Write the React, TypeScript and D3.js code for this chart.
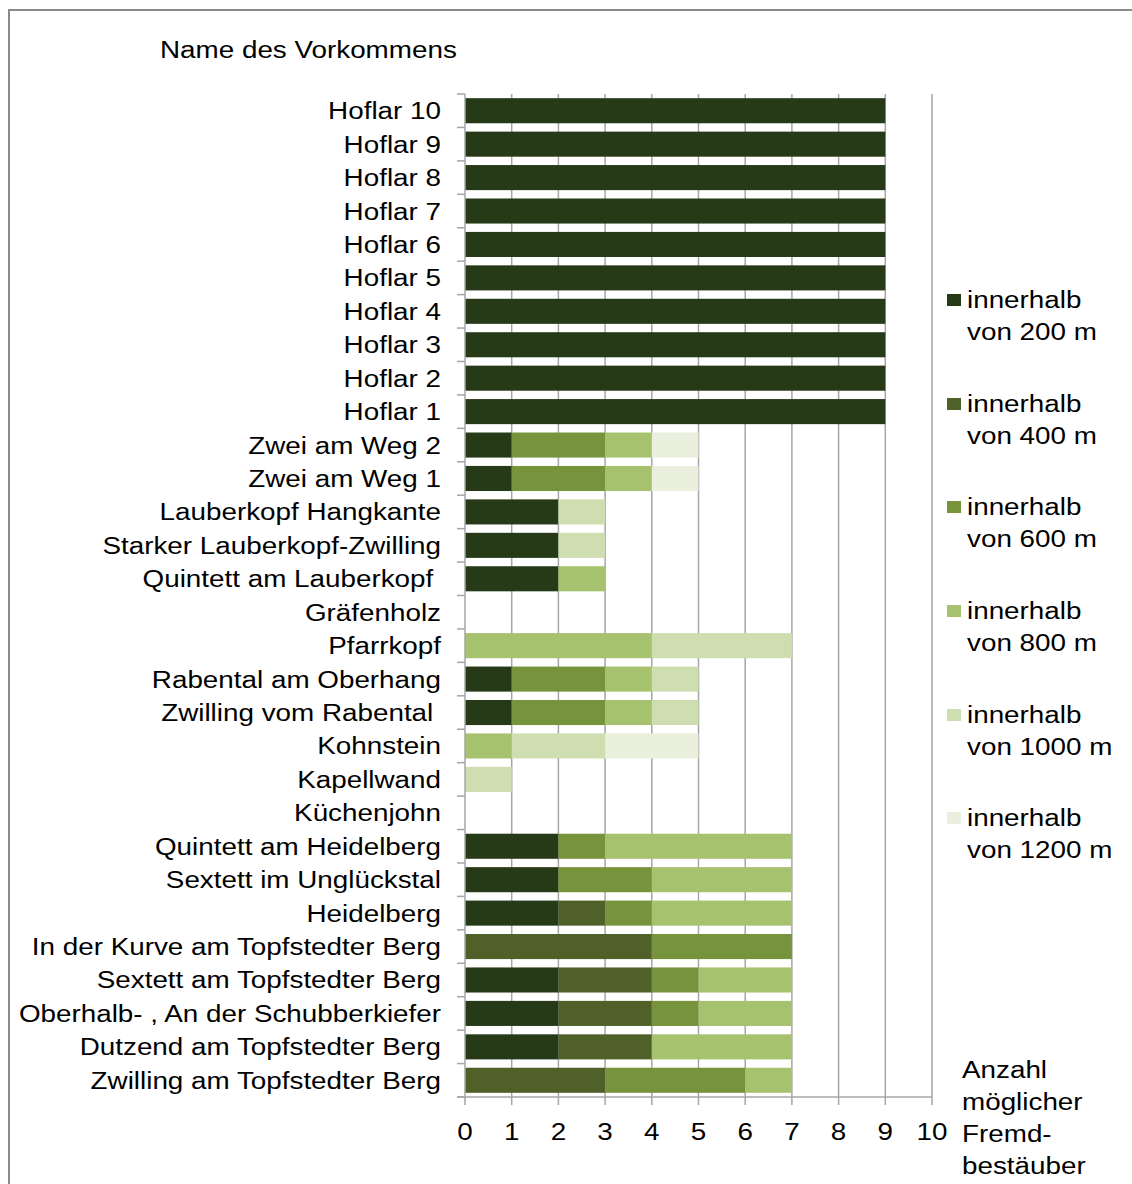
import React from "react";
import * as d3 from "d3";

const categories = [
  "Hoflar 10", "Hoflar 9", "Hoflar 8", "Hoflar 7", "Hoflar 6", "Hoflar 5",
  "Hoflar 4", "Hoflar 3", "Hoflar 2", "Hoflar 1",
  "Zwei am Weg 2", "Zwei am Weg 1", "Lauberkopf Hangkante",
  "Starker Lauberkopf-Zwilling", "Quintett am Lauberkopf ", "Gräfenholz",
  "Pfarrkopf", "Rabental am Oberhang", "Zwilling vom Rabental ", "Kohnstein",
  "Kapellwand", "Küchenjohn", "Quintett am Heidelberg", "Sextett im Unglückstal",
  "Heidelberg", "In der Kurve am Topfstedter Berg", "Sextett am Topfstedter Berg",
  "Oberhalb- , An der Schubberkiefer", "Dutzend am Topfstedter Berg",
  "Zwilling am Topfstedter Berg",
];

const seriesKeys = ["m200", "m400", "m600", "m800", "m1000", "m1200"];
const seriesLabels = ["von 200 m", "von 400 m", "von 600 m", "von 800 m", "von 1000 m", "von 1200 m"];
const seriesColors = ["#273a18", "#4f6128", "#77933c", "#a7c26e", "#cfdeb0", "#ebf0de"];

const within200 = [9, 9, 9, 9, 9, 9, 9, 9, 9, 9, 1, 1, 2, 2, 2, 0, 0, 1, 1, 0, 0, 0, 2, 2, 2, 0, 2, 2, 2, 0];
const within400 = [0, 0, 0, 0, 0, 0, 0, 0, 0, 0, 0, 0, 0, 0, 0, 0, 0, 0, 0, 0, 0, 0, 0, 0, 1, 4, 2, 2, 2, 3];
const within600 = [0, 0, 0, 0, 0, 0, 0, 0, 0, 0, 2, 2, 0, 0, 0, 0, 0, 2, 2, 0, 0, 0, 1, 2, 1, 3, 1, 1, 0, 3];
const within800 = [0, 0, 0, 0, 0, 0, 0, 0, 0, 0, 1, 1, 0, 0, 1, 0, 4, 1, 1, 1, 0, 0, 4, 3, 3, 0, 2, 2, 3, 1];
const within1000 = [0, 0, 0, 0, 0, 0, 0, 0, 0, 0, 0, 0, 1, 1, 0, 0, 3, 1, 1, 2, 1, 0, 0, 0, 0, 0, 0, 0, 0, 0];
const within1200 = [0, 0, 0, 0, 0, 0, 0, 0, 0, 0, 1, 1, 0, 0, 0, 0, 0, 0, 0, 2, 0, 0, 0, 0, 0, 0, 0, 0, 0, 0];

const xTicks = [0, 1, 2, 3, 4, 5, 6, 7, 8, 9, 10];
const yTitle = "Name des Vorkommens";
const xTitle = ["Anzahl", "möglicher", "Fremd-", "bestäuber"];

const FONT = "'Liberation Sans', Arial, sans-serif";
const FS = 23;
const SX = 1.21;
const GRID = "#a6a6a6";

function T({ x, y, anchor = "start", children }: { x: number; y: number; anchor?: string; children: any }) {
  return (
    <text
      transform={`translate(${x},${y}) scale(${SX},1)`}
      textAnchor={anchor as any}
      fontFamily={FONT}
      fontSize={FS}
      fill="#000"
      style={{ whiteSpace: "pre" }}
    >
      {children}
    </text>
  );
}

export default function App() {
  const data = categories.map((c, i) => ({
    name: c,
    m200: within200[i],
    m400: within400[i],
    m600: within600[i],
    m800: within800[i],
    m1000: within1000[i],
    m1200: within1200[i],
  }));

  const x = d3.scaleLinear().domain([0, 10]).range([465, 932]);
  const y = d3.scaleBand().domain(categories).range([94, 1097]).paddingInner(0.25).paddingOuter(0.125);
  const step = y.step();
  const stacked = d3.stack<any>().keys(seriesKeys)(data);

  const legendY = [300, 404, 507, 611, 715, 818];

  return (
    <svg width={1132} height={1184} style={{ position: "absolute", left: 0, top: 0, background: "#fff" }}>
      <rect x={0} y={0} width={1132} height={1184} fill="#fff" />
      <rect x={9} y={10} width={1200} height={1300} fill="none" stroke="#8a8a8a" strokeWidth={2} />

      {xTicks.filter((t) => t > 0).map((t) => (
        <line key={"g" + t} x1={x(t)} x2={x(t)} y1={94} y2={1097} stroke={GRID} strokeWidth={1.5} />
      ))}

      {stacked.map((s, si) => (
        <g key={s.key} fill={seriesColors[si]}>
          {s.map((d, i) =>
            d[1] - d[0] > 0 ? (
              <rect
                key={i}
                x={x(d[0])}
                y={y(categories[i])!}
                width={x(d[1]) - x(d[0])}
                height={y.bandwidth()}
              />
            ) : null
          )}
        </g>
      ))}

      <line x1={465} x2={465} y1={94} y2={1097} stroke={GRID} strokeWidth={1.5} />
      {d3.range(categories.length + 1).map((i) => (
        <line key={"lt" + i} x1={457} x2={465} y1={94 + i * step} y2={94 + i * step} stroke={GRID} strokeWidth={1.5} />
      ))}
      <line x1={457} x2={932} y1={1097} y2={1097} stroke={GRID} strokeWidth={1.5} />
      {xTicks.map((t) => (
        <line key={"bt" + t} x1={x(t)} x2={x(t)} y1={1097} y2={1105} stroke={GRID} strokeWidth={1.5} />
      ))}
      {xTicks.map((t) => (
        <T key={"xl" + t} x={x(t)} y={1140} anchor="middle">{String(t)}</T>
      ))}

      {categories.map((c) => (
        <T key={"cl" + c} x={441} y={y(c)! + y.bandwidth() / 2 + 8.5} anchor="end">{c}</T>
      ))}

      <T x={160} y={58}>{yTitle}</T>

      {seriesKeys.map((k, i) => (
        <g key={"lg" + k}>
          <rect x={947} y={legendY[i] - 6} width={14} height={12} fill={seriesColors[i]} />
          <T x={967} y={legendY[i] + 8}>innerhalb</T>
          <T x={967} y={legendY[i] + 40}>{seriesLabels[i]}</T>
        </g>
      ))}

      {xTitle.map((l, i) => (
        <T key={"xt" + i} x={962} y={1078 + i * 32}>{l}</T>
      ))}
    </svg>
  );
}
